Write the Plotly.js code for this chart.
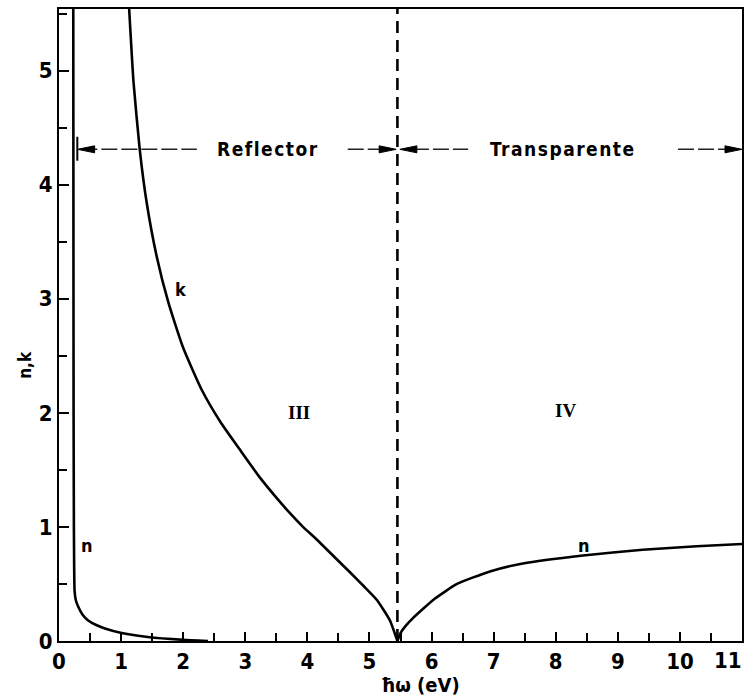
<!DOCTYPE html>
<html>
<head>
<meta charset="utf-8">
<script src="https://cdn.plot.ly/plotly-3.0.1.min.js"></script>
<style>html,body{margin:0;padding:0;background:#fff;}#chart{width:744px;height:696px;}</style>
</head>
<body>
<div id="chart"></div>
<script>
// k (extinction coefficient), regions I-III
const k_x = [1.13, 1.20, 1.30, 1.41, 1.57, 1.76, 2.00, 2.30, 2.60, 2.91, 3.24, 3.48, 3.72, 3.93, 4.15, 4.42, 4.69, 4.91, 5.12, 5.33, 5.45];
const k_y = [5.54, 4.90, 4.31, 3.85, 3.38, 2.97, 2.57, 2.20, 1.92, 1.68, 1.43, 1.27, 1.12, 1.00, 0.89, 0.745, 0.60, 0.48, 0.36, 0.18, 0.0];
// n (refractive index), low-energy branch
const n_low_x = [0.230, 0.232, 0.235, 0.240, 0.250, 0.270, 0.310, 0.380, 0.470, 0.600, 0.740, 1.010, 1.430, 2.000, 2.400];
const n_low_y = [5.54, 4.00, 2.00, 1.00, 0.45, 0.36, 0.30, 0.23, 0.18, 0.14, 0.11, 0.07, 0.035, 0.01, 0.0];
// n (refractive index), transparent branch
const n_high_x = [5.45, 5.50, 5.58, 5.70, 5.86, 6.05, 6.41, 6.94, 7.47, 8.44, 9.40, 10.27, 11.0];
const n_high_y = [0.0, 0.07, 0.13, 0.20, 0.28, 0.37, 0.50, 0.61, 0.68, 0.75, 0.80, 0.83, 0.85];
// plasma energy (eV)
const plasmaE = 5.45;
// tick labels
const xTicks = [0,1,2,3,4,5,6,7,8,9,10,11];
const yTicks = [0,1,2,3,4,5];
const regionLabels = ["Reflector", "Transparente"];
const romanLabels = ["III", "IV"];

const fam = "'Liberation Sans Narrow', 'DejaVu Sans Condensed', Arial, sans-serif";
const tickFont = {family: fam, size: 22, color: "#000", weight: "bold"};
const lblFont = {family: fam, size: 18, color: "#000", weight: "bold"};
const lineStyle = {color: "#000", width: 2.6, shape: "spline", smoothing: 0.5};

const traces = [
  {x: k_x, y: k_y, mode: "lines", line: lineStyle, name: "k", hoverinfo: "skip"},
  {x: n_low_x, y: n_low_y, mode: "lines", line: {color: "#000", width: 2.6, shape: "spline", smoothing: 0.4}, name: "n", hoverinfo: "skip"},
  {x: n_high_x, y: n_high_y, mode: "lines", line: lineStyle, name: "n", hoverinfo: "skip"}
];

const arrowY = 4.31;
function head(xTip, dir) {
  const L = 17, H = 3.5;
  return {type: "path", xref: "x", yref: "y", xsizemode: "pixel", ysizemode: "pixel",
    xanchor: xTip, yanchor: arrowY,
    path: `M0,0 L${-dir*L},${H} L${-dir*L},${-H} Z`,
    fillcolor: "#000", line: {color: "#000", width: 1}};
}
function dline(x0, x1) {
  return {type: "line", xref: "x", yref: "y", x0: x0, x1: x1, y0: arrowY, y1: arrowY,
    line: {color: "#222", width: 1.6, dash: "16px,4px"}};
}

const shapes = [
  {type: "line", xref: "x", yref: "y", x0: plasmaE, x1: plasmaE, y0: 0, y1: 5.54,
   line: {color: "#000", width: 2.6, dash: "12px,7px"}},
  dline(0.36, 2.22), head(0.30, -1),
  {type: "line", xref: "x", yref: "y", x0: 0.295, x1: 0.295, y0: 4.21, y1: 4.42, line: {color: "#000", width: 2}},
  dline(4.65, 5.2), head(plasmaE - 0.02, 1),
  dline(5.7, 6.59), head(plasmaE + 0.04, -1),
  dline(9.97, 10.8), head(11.0, 1)
];

const lastTick = xTicks[xTicks.length - 1];
const annotations = [
  {x: 3.37, y: arrowY, xref: "x", yref: "y", text: '<span style="letter-spacing:1.5px">' + regionLabels[0] + '</span>', showarrow: false, font: {...lblFont, size: 19}},
  {x: 8.12, y: arrowY, xref: "x", yref: "y", text: '<span style="letter-spacing:1.5px">' + regionLabels[1] + '</span>', showarrow: false, font: {...lblFont, size: 19}},
  {x: 3.87, y: 2.0, xref: "x", yref: "y", text: romanLabels[0], showarrow: false, font: {family: "'Liberation Serif', 'DejaVu Serif', serif", size: 19, color: "#000", weight: "bold"}},
  {x: 8.15, y: 2.02, xref: "x", yref: "y", text: romanLabels[1], showarrow: false, font: {family: "'Liberation Serif', 'DejaVu Serif', serif", size: 19, color: "#000", weight: "bold"}},
  {x: 1.96, y: 3.08, xref: "x", yref: "y", text: "k", showarrow: false, font: lblFont},
  {x: 0.45, y: 0.84, xref: "x", yref: "y", text: "n", showarrow: false, font: lblFont},
  {x: 8.45, y: 0.84, xref: "x", yref: "y", text: "n", showarrow: false, font: lblFont},
  // last x tick label, right-aligned to the page edge so it is not cut off
  {x: 1.0029, y: -0.0316, xref: "paper", yref: "paper", xanchor: "right", yanchor: "middle", text: String(lastTick), showarrow: false, font: tickFont},
  {x: 0.530, y: -0.0696, xref: "paper", yref: "paper", xanchor: "center", yanchor: "middle", text: "ħω (eV)", showarrow: false, font: {...lblFont, size: 20}},
  {x: -0.0498, y: 0.437, xref: "paper", yref: "paper", xanchor: "center", yanchor: "middle", text: "n,k", textangle: -90, showarrow: false, font: {...lblFont, size: 17}}
];

const layout = {
  width: 744, height: 696,
  margin: {l: 59, r: 2, t: 9, b: 55, pad: 0},
  paper_bgcolor: "#fff", plot_bgcolor: "#fff",
  showlegend: false,
  xaxis: {range: [0, 11], tickvals: xTicks, ticktext: xTicks.map(v => v === lastTick ? "" : String(v)), ticks: "inside", ticklen: 9, tickwidth: 2, tickcolor: "#000",
    minor: {dtick: 0.5, tick0: 0, ticks: "inside", ticklen: 8, tickwidth: 2, tickcolor: "#000"},
    showline: true, linecolor: "#000", linewidth: 2, mirror: true, showgrid: false, zeroline: false,
    tickfont: tickFont, ticklabelstandoff: 0, ticklabeloverflow: "allow"},
  yaxis: {range: [0, 5.54], tickvals: yTicks, ticktext: yTicks.map(String), ticks: "inside", ticklen: 10, tickwidth: 2, tickcolor: "#000",
    minor: {dtick: 0.5, tick0: 0, ticks: "inside", ticklen: 8, tickwidth: 2, tickcolor: "#000"},
    showline: true, linecolor: "#000", linewidth: 2, mirror: true, showgrid: false, zeroline: false,
    tickfont: tickFont, ticklabeloverflow: "allow"},
  shapes: shapes,
  annotations: annotations
};

Plotly.newPlot("chart", traces, layout, {staticPlot: true, displayModeBar: false});
</script>
</body>
</html>
